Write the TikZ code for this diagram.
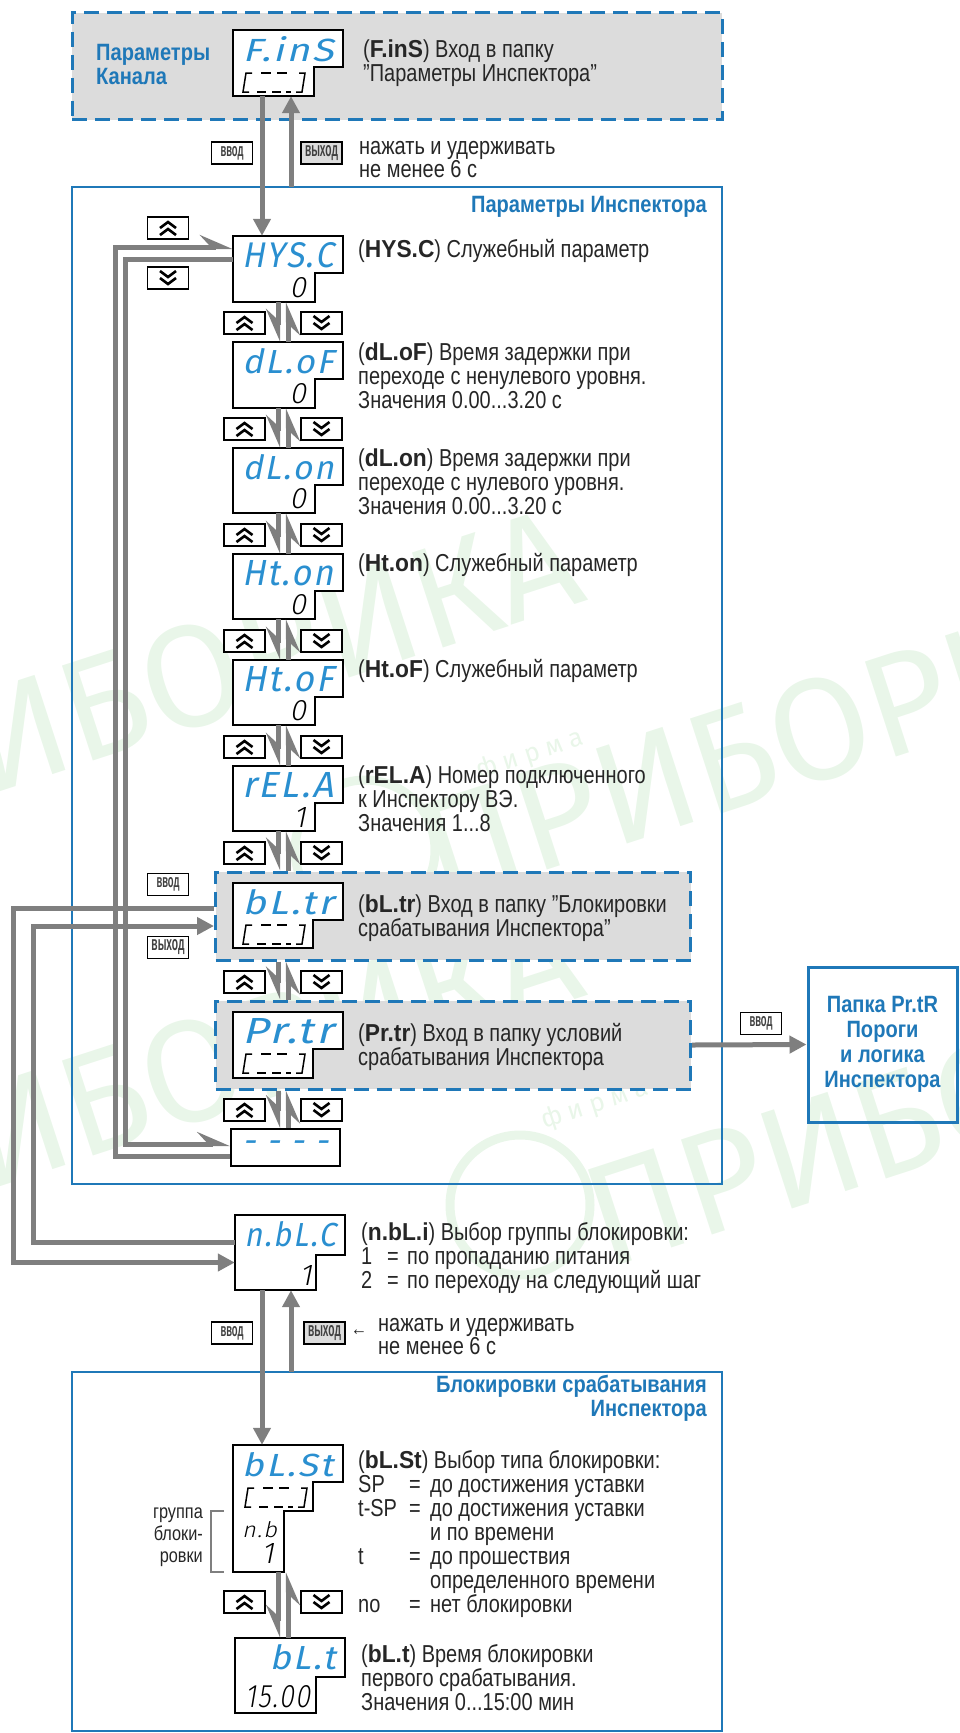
\documentclass[tikz,border=0pt]{standalone}
\usepackage{fontspec}
\usepackage{graphicx}
\usetikzlibrary{arrows.meta}
\setmainfont[UprightFeatures={FakeStretch=0.815},BoldFeatures={FakeStretch=0.93}]{Liberation Sans}
\newfontfamily\ttlf[FakeStretch=0.85]{Liberation Sans}
\newfontfamily\segf[FakeSlant=0.2,LetterSpace=6]{Fira Sans}
\newfontfamily\seglt[FakeSlant=0.2,LetterSpace=6,UprightFont=* Light]{Fira Sans}
\newfontfamily\wmf{Fira Sans}
\definecolor{ibl}{HTML}{1F78B8}
\definecolor{segbl}{HTML}{2A8FD0}
\definecolor{ln}{HTML}{7F7F7F}
\definecolor{pan}{HTML}{DCDCDC}
\definecolor{wm}{HTML}{E9F6E9}
\definecolor{ink}{HTML}{262626}
\tikzset{
 x=1pt,y=-1pt,
 txt/.style={anchor=north west,inner sep=0pt,align=left,text=ink,font=\fontsize{24.5}{24}\selectfont},
 ttl/.style={inner sep=0pt,text=ibl,font=\fontsize{23.6}{24}\selectfont\ttlf\bfseries},
 solidbox/.style={draw=ibl,line width=2.5pt},
 dashbox/.style={draw=ibl,fill=pan,line width=3pt,dash pattern=on 15pt off 8pt},
 dispout/.style={draw=black,fill=white,line width=1.8pt,line join=miter},
 anchorbox/.style={inner sep=0pt,minimum width=110pt},
 segup/.style={inner sep=0pt,text=segbl},
 seglow/.style={inner sep=0pt,text=black},
 folderline/.style={draw=black,line width=1.5pt},
 btn/.style={draw=black,fill=white,line width=1.8pt,minimum width=41pt,minimum height=22pt,inner sep=0pt,text=black!75},
 btngray/.style={btn,fill=pan},
 chev/.style={draw=black,line width=2.6pt},
 conn/.style={draw=ln,line width=5pt,line join=miter},
 full/.style={-{Triangle[length=17pt,width=17pt]}},
 harpr/.style={-{Stealth[harpoon,swap,length=28pt,width=24pt,inset=11pt]}},
 harpl/.style={-{Stealth[harpoon,length=28pt,width=24pt,inset=11pt]}},
 wmt/.style={inner sep=0pt,text=wm,rotate=18,font=\fontsize{145}{145}\wmf},
}
% name, x0, y0, height, notch dy, notch x offset, width of top text, top text
\newcommand\disp[8]{%
 \path[dispout] (#2,#3) -- ({#2+110},#3) -- ({#2+110},{#3+#5}) -- ({#2+#6},{#3+#5}) -- ({#2+#6},{#3+#4}) -- (#2,{#3+#4}) -- cycle;
 \node[anchorbox,minimum height=#4pt] (#1) at ({#2+55},{#3+#4/2}) {};
 \node[segup] at ({#2+55+(91-#7)/2},{#3+19}) {\resizebox{#7pt}{25pt}{\segf #8}};
}
\newcommand\lowval[3]{\node[seglow,anchor=east] at (#1,#2) {\resizebox{!}{20pt}{\seglt #3}};}
\newcommand\folder[2]{\begin{scope}[shift={(#1,#2)}]
 \draw[folderline] (9,0)--(3,0)--(0,19)--(6,19);
 \draw[folderline] (56,0)--(62,0)--(59,19)--(53,19);
 \draw[folderline] (18,0)--(28,0) (34,0)--(44,0) (14,19)--(23,19) (29,19)--(38,19) (43,19)--(48,19);
\end{scope}}
\newcommand\chevup[2]{\begin{scope}[shift={(#1,#2)}]
 \draw[chev] (-8,0)--(0,-6)--(8,0) (-8,7)--(0,1)--(8,7);\end{scope}}
\newcommand\chevdn[2]{\begin{scope}[shift={(#1,#2)}]
 \draw[chev] (-8,-7)--(0,-1)--(8,-7) (-8,0)--(0,6)--(8,0);\end{scope}}
\newcommand\btnpair[4]{%
 \node[btn] (#1) at (#3,#4) {}; \chevup{#3}{#4}
 \node[btn] (#2) at ({#3+77},#4) {}; \chevdn{{#3+77}}{#4}
}
\newcommand\btntxt[3]{\resizebox{#1pt}{#2pt}{\bfseries #3}}
\newcommand\pairlink[2]{%
 \draw[conn,harpr] (#1.south -| lx) -- (#2.north -| lx);
 \draw[conn,harpr] (#2.north -| rx) -- (#1.south -| rx);
}
\newcommand\lbltxt[4]{\node[txt] (#1) at (#2,{#3-10}) {\rule{0pt}{19pt}#4};}
\newcommand\optrow[2]{\makebox[51pt][l]{#1}\makebox[21pt][l]{=}#2}
\newcommand\numrow[2]{\makebox[26pt][l]{#1}\makebox[20pt][l]{=}#2}
\newcommand\qq{\char34{}}
\begin{document}
\begin{tikzpicture}
\useasboundingbox (0,0) rectangle (959,1733);
\coordinate (lx) at (278,0);
\coordinate (rx) at (288,0);
\coordinate (ol) at (115,0);
\coordinate (il) at (125,0);
\coordinate (oo) at (13,0);
\coordinate (oi) at (33,0);
\coordinate (vv) at (262,0);
\coordinate (vy) at (291,0);
% watermark
\begin{scope}
\clip (0,0) rectangle (959,1733);
\node[wmt,anchor=base east] (wa) at (590,600) {ПРИБОРИКА};
\node[wmt,anchor=base east] (wb) at (590,995) {ПРИБОРИКА};
\node[wmt,anchor=base west] (wc) at (440,905) {ПРИБОРИКА};
\node[wmt,anchor=base west] (wd) at (605,1270) {ПРИБОРИКА};
\node[inner sep=0pt,text=wm,rotate=18,font=\fontsize{26}{26}\wmf] (we) at (530,755) {ф и р м а};
\node[inner sep=0pt,text=wm,rotate=18,font=\fontsize{26}{26}\wmf] (wf) at (595,1105) {ф и р м а};
\draw[wm,line width=9pt] (365,850) circle (70);
\draw[wm,line width=9pt] (520,1205) circle (70);
\end{scope}
% panels
\node[dashbox,minimum width=650pt,minimum height=107pt,inner sep=0pt] (top) at (397,66) {};
\draw[solidbox] (72,187) rectangle (722,1184);
\draw[solidbox] (72,1372) -- (722,1372) -- (722,1731) -- (72,1731) -- cycle;
\node[dashbox,minimum width=475pt,minimum height=88pt,inner sep=0pt] (bltrd) at (453,916) {};
\node[dashbox,minimum width=475pt,minimum height=88pt,inner sep=0pt] (prtrd) at (453,1045) {};
\node[solidbox,line width=3pt,minimum width=149pt,minimum height=155pt,inner sep=0pt,align=center,text=ibl,font=\fontsize{23.6}{25}\selectfont\ttlf\bfseries] (papka) at (882.5,1044.5) {Папка Pr.tR\\Пороги\\и логика\\Инспектора};
% displays
\disp{fins}{233}{30}{66}{37}{81}{91}{F.inS}\folder{243}{73}
\disp{hysc}{233}{236}{66}{37}{82}{91}{HYS.C}\lowval{306}{288}{0}
\disp{dlof}{233}{342}{66}{37}{82}{91}{dL.oF}\lowval{306}{394}{0}
\disp{dlon}{233}{448}{65}{37}{82}{91}{dL.on}\lowval{306}{499}{0}
\disp{hton}{233}{554}{65}{37}{82}{91}{Ht.on}\lowval{306}{605}{0}
\disp{htof}{233}{660}{65}{37}{82}{91}{Ht.oF}\lowval{306}{711}{0}
\disp{rela}{233}{766}{65}{37}{82}{91}{rEL.A}\lowval{306}{817}{1}
\disp{bltr}{233}{883}{65}{37}{80}{91}{bL.tr}\folder{243}{925}
\disp{prtr}{233}{1012}{66}{37}{80}{91}{Pr.tr}\folder{243}{1054}
\node[dispout,minimum width=109pt,minimum height=37pt,inner sep=0pt] (dash) at (285.5,1147.5) {};
\node[segup] (dasht) at (285.5,1147) {\resizebox{86pt}{!}{\segf - - - -}};
\disp{nblc}{235}{1215}{75}{40}{81}{91}{n.bL.C}\lowval{312}{1275}{1}
% bL.St staircase box
\path[dispout] (233,1445) -- (343,1445) -- (343,1482) -- (313,1482) -- (313,1511) -- (284,1511) -- (284,1572) -- (233,1572) -- cycle;
\node[inner sep=0pt,minimum width=110pt,minimum height=127pt] (blst) at (288,1508.5) {};
\node[segup] at (287.5,1465) {\resizebox{91pt}{24pt}{\segf bL.St}};
\folder{245}{1488}
\node[seglow] at (259.5,1530) {\resizebox{35pt}{16pt}{\seglt n.b}};
\lowval{274}{1553}{1}
\disp{blt}{235}{1638}{75}{39}{81}{66}{bL.t}
\node[seglow] at (277.5,1697) {\resizebox{65pt}{22pt}{\seglt 15.00}};
% buttons
\node[btn] (u0) at (168,228) {}; \chevup{168}{228}
\node[btn] (d0) at (168,278) {}; \chevdn{168}{278}
\btnpair{u1}{d1}{244.5}{323}
\btnpair{u2}{d2}{244.5}{429}
\btnpair{u3}{d3}{244.5}{535}
\btnpair{u4}{d4}{244.5}{641}
\btnpair{u5}{d5}{244.5}{747}
\btnpair{u6}{d6}{244.5}{853}
\btnpair{u7}{d7}{244.5}{982}
\btnpair{u8}{d8}{244.5}{1110}
\btnpair{u9}{d9}{244.5}{1602}
\node[btn] (vvod1) at (232,153) {\btntxt{23}{10}{ввод}};
\node[btngray] (vyh1) at (321.5,153) {\btntxt{33}{11}{выход}};
\node[btn] (vvod2) at (168,884.5) {\btntxt{23}{10}{ввод}};
\node[btn] (vyh2) at (168,947.5) {\btntxt{33}{11}{выход}};
\node[btn] (vvod3) at (761,1023.5) {\btntxt{23}{10}{ввод}};
\node[btn] (vvod4) at (232,1333) {\btntxt{23}{10}{ввод}};
\node[btngray] (vyh4) at (324.5,1333) {\btntxt{33}{11}{выход}};
% connectors
\draw[conn,full] (fins.south -| vv) -- (hysc.north -| vv);
\draw[conn,full] (vy |- 0,187) -- (fins.south -| vy);
\pairlink{hysc}{dlof}
\pairlink{dlof}{dlon}
\pairlink{dlon}{hton}
\pairlink{hton}{htof}
\pairlink{htof}{rela}
\pairlink{rela}{bltrd}
\pairlink{bltrd}{prtrd}
\pairlink{prtrd}{dash}
\coordinate (a1) at ([yshift=-8.5pt]dash.west);
\coordinate (a2) at ([yshift=22pt]hysc.west);
\coordinate (b1) at ([yshift=10pt]hysc.west);
\coordinate (b2) at ([yshift=3.5pt]dash.west);
\coordinate (c1) at ([yshift=8pt]bltrd.west);
\coordinate (c2) at ([yshift=-10pt]nblc.west);
\coordinate (d1) at ([yshift=10pt]nblc.west);
\coordinate (d2) at ([yshift=-10pt]bltrd.west);
\draw[conn,harpl] (a1) -- (a1 -| ol) -- (a2 -| ol) -- (a2);
\draw[conn,harpl] (b1) -- (b1 -| il) -- (b2 -| il) -- (b2);
\draw[conn,full] (c1) -- (c1 -| oo) -- (c2 -| oo) -- (c2);
\draw[conn,full] (d1) -- (d1 -| oi) -- (d2 -| oi) -- (d2);
\draw[conn,full] (prtrd.east) -- (papka.west);
\draw[conn,full] (nblc.south -| vv) -- (blst.north -| vv);
\draw[conn,full] (vy |- 0,1372) -- (nblc.south -| vy);
\pairlink{blst}{blt}
% bracket
\draw[ln,line width=1.2pt] (224,1511) -- (211,1511) -- (211,1572) -- (224,1572);
% labels
\node[ttl,anchor=north west,align=left] (t1) at (96,44) {Параметры\\Канала};
\node[ttl,anchor=east] (t2) at (707,207) {Параметры Инспектора};
\node[ttl,anchor=north east,align=right] (t3) at (707,1375) {Блокировки срабатывания\\Инспектора};
\lbltxt{l0}{363}{48}{(\textbf{F.inS}) Вход в папку\\\qq Параметры Инспектора\qq}
\node[txt,font=\fontsize{24.5}{21}\selectfont] (l1) at (359,135) {\rule{0pt}{19pt}нажать и удерживать\\не менее 6 с};
\lbltxt{l2}{358}{248}{(\textbf{HYS.C}) Служебный параметр}
\lbltxt{l3}{358}{351}{(\textbf{dL.oF}) Время задержки при\\переходе с ненулевого уровня.\\Значения 0.00...3.20 с}
\lbltxt{l4}{358}{457}{(\textbf{dL.on}) Время задержки при\\переходе с нулевого уровня.\\Значения 0.00...3.20 с}
\lbltxt{l5}{358}{562}{(\textbf{Ht.on}) Служебный параметр}
\lbltxt{l6}{358}{668}{(\textbf{Ht.oF}) Служебный параметр}
\lbltxt{l7}{358}{774}{(\textbf{rEL.A}) Номер подключенного\\к Инспектору ВЭ.\\Значения 1...8}
\lbltxt{l8}{358}{903}{(\textbf{bL.tr}) Вход в папку \qq Блокировки\\срабатывания Инспектора\qq}
\lbltxt{l9}{358}{1032}{(\textbf{Pr.tr}) Вход в папку условий\\срабатывания Инспектора}
\lbltxt{l10}{361}{1231}{(\textbf{n.bL.i}) Выбор группы блокировки:\\\numrow{1}{по пропаданию питания}\\\numrow{2}{по переходу на следующий шаг}}
\node[inner sep=0pt,text=ink,font=\fontsize{20}{20}\selectfont] (arr) at (359,1333) {←};
\node[txt,font=\fontsize{24.5}{21}\selectfont] (l11) at (378,1312) {\rule{0pt}{19pt}нажать и удерживать\\не менее 6 с};
\lbltxt{l12}{358}{1459}{(\textbf{bL.St}) Выбор типа блокировки:\\\optrow{SP}{до достижения уставки}\\\optrow{t-SP}{до достижения уставки}\\\makebox[72pt]{}и по времени\\\optrow{t}{до прошествия}\\\makebox[72pt]{}определенного времени\\\optrow{no}{нет блокировки}}
\lbltxt{l13}{361}{1653}{(\textbf{bL.t}) Время блокировки\\первого срабатывания.\\Значения 0...15:00 мин}
\node[inner sep=0pt,anchor=north east,align=right,text=ink,font=\fontsize{20}{22}\selectfont] (l14) at (203,1508) {группа\\блоки-\\ровки};
\end{tikzpicture}
\end{document}
